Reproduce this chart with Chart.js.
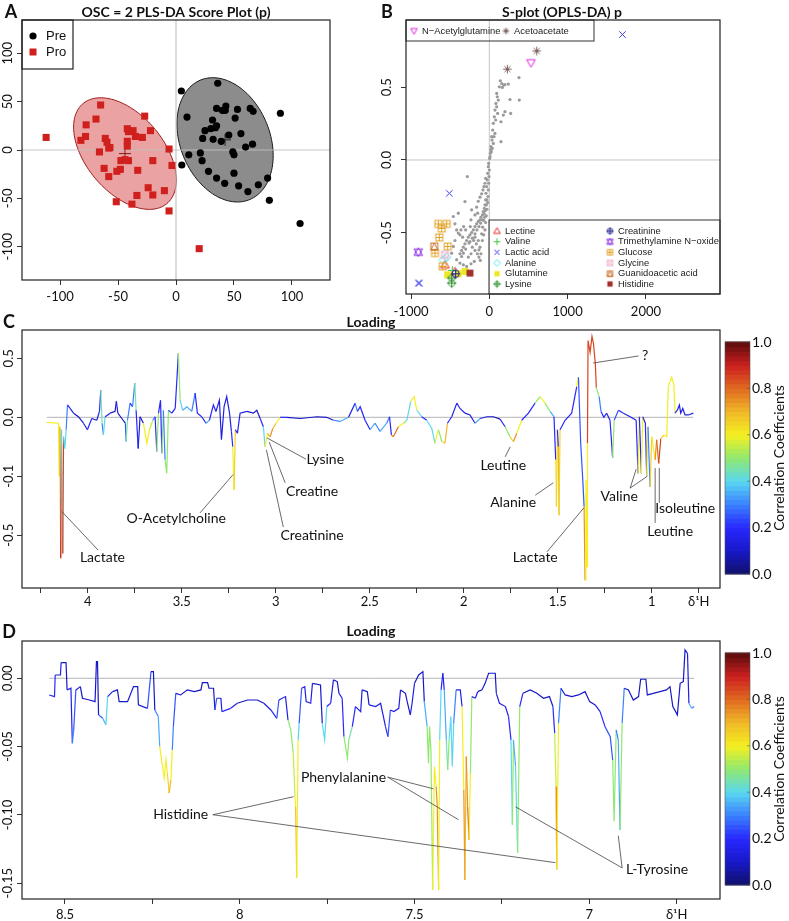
<!DOCTYPE html>
<html>
<head>
<meta charset="utf-8">
<title>PLS-DA scores, S-plot and loadings</title>
<script src="https://cdn.jsdelivr.net/npm/chart.js@4.4.1/dist/chart.umd.min.js"></script>
<style>
  html, body { margin: 0; padding: 0; background: #fff; }
  #page { position: relative; width: 789px; height: 921px; overflow: hidden; }
  #page canvas { position: absolute; left: 0; top: 0; }
</style>
</head>
<body>
<div id="page">
  <canvas id="scoreChart" width="789" height="921"></canvas>
  <canvas id="splotChart" width="789" height="921"></canvas>
  <canvas id="loadingChart" width="789" height="921"></canvas>
  <canvas id="aromaticChart" width="789" height="921"></canvas>
</div>
<script>
// ---------- A: score plot ----------
const preScoreX = [4.6, 36, 9.5, 5, 11, 21, 22.5, 23, 25, 28, 32, 31.5, 30, 34, 35, 35, 40, 43, 42.5, 35,
  39, 45.5, 42, 49, 50, 51, 50, 53, 54, 56, 60, 62, 64, 66.5, 66, 71, 79, 80.5, 90, 107];
const preScoreY = [61, 69, 34, -15.5, -5, -3, -11, 12, 20, -22, 11, 31, 22, 23, 25, 43, 41, 45.5, 41, -29,
  9, 15.5, -34.5, -2, -5, 33, -24, 42, -37, 17, 3, -43, 43, 40, 6, -36, -29, -52, 38, -76];
const proScoreX = [-112, -65, -69, -77.5, -78, -82, -66, -61, -59.5, -58, -57, -62, -58, -51, -48, -51.5, -42, -41, -37, -42,
  -42, -44, -47.5, -41, -38, -35, -29, -27, -33, -33.7, -22, -20, -24, -20, -10, -6, -3.5, -6, 20];
const proScoreY = [13, 46.5, 32, 26, 14, 10, -2, 12, 8, 2, 2.5, -19, -27.5, -22, -20, -53.5, 22, 19, 20, 9,
  4, -10, -11, -11, -56, 14, 13, 35, -21, -47, 20, -11, -39, -46.5, -42, 1, -16, -63, -102];
const preEllipse = { cx: 42.3, cy: 10.5, sdX: 41.5, sdY: 64.25, cov: -680 };
const proEllipse = { cx: -44, cy: -3.7, sdX: 44.3, sdY: 57.7, cov: -1212 };
const scoreTicks = [-100, -50, 0, 50, 100];
const scoreTickLabels = ['-100', '-50', '0', '50', '100'];

// ---------- B: S-plot ----------
const sPlotX = [141, 158, 166, 183, 200, 243, 379, 264, 383, 273, 200, 179, 149, 149, 115, 102, 94, 72, 81, 64,
  106, 51, 43, 72, 60, 30, 34, 51, 21, 38, 17, 26, 13, 9, 4, 128, 94, 85,
  -281, -9, -13, -21, -26, -34, -43, -47, -55, -64, -77, -89, -107, -119, -141, -162, -183, -204, -226, -247,
  -268, -290, -311, -332, -354, -375, -311, -396, -460, -439, -417, -375, -341, -260, -217, -183, -153, -132, -115, -192,
  -234, -290, -302, -243, -183, -141, -119, -98, -85, -72, -60, -226, -183, -162, -141, -119, -98, -81, -68, -55,
  -47, -149, -234, -328, -362, -396, -439, -460, -481, -417, -375, -332, -268, -234, -200, -166, -132, -107, -89, -72,
  -55, -47, -38, -30, -21, -17, -13, -9, -4, 0, -30, -38, -51, -64, -89, -111, -132, -158, -183, -217,
  -247, -302, -332, -354];
const sPlotY = [0.545, 0.526, 0.499, 0.515, 0.519, 0.522, 0.567, 0.416, 0.412, 0.320, 0.332, 0.309, 0.126, 0.263, 0.412, 0.435, 0.366, 0.343, 0.275, 0.297,
  0.320, 0.252, 0.206, 0.183, 0.160, 0.160, 0.137, 0.114, 0.092, 0.080, 0.069, 0.057, 0.046, 0.023, 0.011, 0.503, 0.458, 0.389,
  -0.114, -0.023, -0.046, -0.092, -0.137, -0.183, -0.229, -0.275, -0.309, -0.332, -0.355, -0.378, -0.394, -0.412, -0.423, -0.439, -0.458, -0.481, -0.499, -0.515,
  -0.531, -0.554, -0.577, -0.600, -0.622, -0.645, -0.286, -0.366, -0.389, -0.439, -0.481, -0.515, -0.531, -0.572, -0.600, -0.622, -0.645, -0.668, -0.691, -0.698,
  -0.714, -0.732, -0.481, -0.458, -0.508, -0.554, -0.600, -0.508, -0.462, -0.416, -0.394, -0.343, -0.378, -0.325, -0.284, -0.256, -0.233, -0.206, -0.183, -0.160,
  -0.126, -0.366, -0.412, -0.458, -0.481, -0.503, -0.554, -0.595, -0.641, -0.686, -0.709, -0.721, -0.668, -0.645, -0.554, -0.577, -0.618, -0.645, -0.554, -0.515,
  -0.481, -0.430, -0.384, -0.339, -0.293, -0.252, -0.206, -0.160, -0.114, -0.069, -0.275, -0.309, -0.348, -0.371, -0.412, -0.435, -0.458, -0.481, -0.531, -0.538,
  -0.561, -0.613, -0.641, -0.664];
const metaboliteNames = ['Lectine', 'Valine', 'Lactic acid', 'Alanine', 'Glutamine', 'Lysine',
  'Creatinine', 'Trimethylamine N\u2212oxide', 'Glucose', 'Glycine', 'Guanidoacetic acid', 'Histidine',
  'N\u2212Acetylglutamine', 'Acetoacetate'];
const metaboliteX = [[-566, -439], [-473], [1700, -511, -907, -893], [-545, -588], [-532, -396, -311], [-481, -481],
  [-430], [-907], [-652, -609, -545, -639, -532, -694, -596], [-566], [-703], [-247], [532], [605, 230]];
const metaboliteY = [[-0.721, -0.767], [-0.76], [0.863, -0.229, -0.847, -0.847], [-0.67, -0.686], [-0.79, -0.783, -0.767], [-0.812, -0.847],
  [-0.783], [-0.634], [-0.44, -0.471, -0.44, -0.533, -0.595, -0.641, -0.732], [-0.652], [-0.595], [-0.778], [0.668], [0.75, 0.625]];
const sPlotXTicks = [-1000, 0, 1000, 2000];
const sPlotXLabels = ['-1000', '0', '1000', '2000'];
const sPlotYTicks = [-0.5, 0, 0.5];
const sPlotYLabels = ['-0.5', '0.0', '0.5'];

// ---------- C: loading 4.2 - 0.8 ppm (y in axis units: 0.5 / 0.0 / -0.1 / -0.5 marks) ----------
const cPpm = [4.218, 4.156, 4.152, 4.149, 4.144, 4.140, 4.133, 4.129, 4.122, 4.115, 4.108, 4.094, 4.076, 4.05, 4.023, 4.002, 3.979, 3.952, 3.938, 3.931,
  3.924, 3.917, 3.908, 3.881, 3.855, 3.848, 3.84, 3.819, 3.80, 3.796, 3.789, 3.775, 3.762, 3.75, 3.743, 3.732, 3.722, 3.704, 3.686, 3.672,
  3.654, 3.642, 3.633, 3.624, 3.613, 3.606, 3.598, 3.589, 3.580, 3.571, 3.553, 3.535, 3.518, 3.509, 3.495, 3.473, 3.447, 3.429, 3.417, 3.394,
  3.371, 3.353, 3.332, 3.318, 3.30, 3.289, 3.275, 3.261, 3.246, 3.236, 3.229, 3.222, 3.215, 3.204, 3.19, 3.154, 3.119, 3.101, 3.083, 3.066,
  3.057, 3.044, 3.030, 3.016, 2.998, 2.977, 2.941, 2.87, 2.78, 2.73, 2.693, 2.658, 2.613, 2.578, 2.566, 2.551, 2.525, 2.498, 2.472, 2.445,
  2.41, 2.395, 2.385, 2.375, 2.365, 2.348, 2.321, 2.303, 2.282, 2.264, 2.25, 2.224, 2.197, 2.17, 2.153, 2.135, 2.117, 2.1, 2.087, 2.064,
  2.037, 2.02, 1.993, 1.967, 1.94, 1.913, 1.878, 1.842, 1.807, 1.78, 1.754, 1.736, 1.718, 1.692, 1.656, 1.621, 1.594, 1.568, 1.541, 1.52,
  1.511, 1.507, 1.502, 1.497, 1.493, 1.488, 1.461, 1.426, 1.399, 1.39, 1.378, 1.367, 1.36, 1.355, 1.35, 1.344, 1.342, 1.339, 1.328, 1.318,
  1.31, 1.30, 1.295, 1.28, 1.27, 1.255, 1.24, 1.222, 1.208, 1.2, 1.177, 1.151, 1.115, 1.083, 1.073, 1.066, 1.055, 1.048, 1.034, 1.027,
  1.02, 1.009, 1.0, 0.982, 0.974, 0.963, 0.952, 0.935, 0.92, 0.912, 0.894, 0.882, 0.876, 0.864, 0.853, 0.846, 0.835, 0.823, 0.805, 0.779];
const cLoading = [-0.085, -0.10, -1.0, -0.16, -2.39, -0.21, -2.31, -0.33, -0.53, -0.21, 0.21, 0.15, 0.07, 0.01, -0.10, -0.21, -0.02, -0.05, 0.10, 0.46,
  -0.10, -0.30, 0.01, 0.07, 0.10, 0.27, 0.07, -0.02, -0.10, -0.41, -0.05, 0.24, 0.18, 0.58, 0.12, -0.53, 0.01, -0.10, -0.44, -0.21,
  -0.05, 0.01, -0.58, 0.07, 0.29, -0.61, 0.12, -0.72, -0.95, 0.12, 0.07, 0.15, 1.09, 0.29, 0.12, 0.18, 0.10, 0.41, 0.07, 0.01,
  -0.10, -0.05, 0.21, 0.10, 0.29, -0.38, 0.18, 0.35, 0.07, -0.24, -0.50, -1.23, -0.21, -0.27, 0.07, 0.10, 0.07, 0.12, -0.02, -0.16,
  -0.50, -0.27, -0.33, -0.19, -0.10, 0.0, 0.0, -0.02, 0.01, 0.0, -0.05, -0.07, 0.0, 0.24, 0.10, 0.18, -0.05, -0.21, -0.10, -0.24,
  -0.10, 0.01, -0.30, -0.33, -0.27, -0.16, -0.10, -0.05, 0.27, 0.35, 0.12, 0.01, -0.05, -0.19, -0.44, -0.21, -0.41, -0.44, -0.10, 0.01,
  0.24, 0.15, 0.07, 0.04, -0.10, -0.02, 0.01, 0.01, -0.03, -0.16, -0.33, -0.41, -0.27, -0.05, 0.07, 0.24, 0.35, 0.24, 0.10, 0.01,
  -0.72, -1.51, -0.21, -0.50, -1.66, -0.21, -0.05, 0.07, 0.52, 0.68, -0.44, -1.06, -1.51, -2.76, -1.06, -2.53, -0.44, 1.30, 1.10, 1.37,
  1.25, 0.90, 0.50, 0.35, 0.10, 0.0, 0.07, -0.05, -0.69, -0.05, 0.12, 0.07, 0.01, -0.05, -0.95, 0.01, -0.95, 0.01, -0.10, -1.0,
  -0.16, -1.18, -0.33, -0.72, -0.38, -0.78, -0.36, -0.30, -0.33, 0.52, 0.68, 0.55, 0.07, 0.12, 0.21, 0.07, 0.15, 0.04, 0.04, 0.07];
const cCorr = [0.6, 0.6, 0.65, 0.7, 0.9, 0.4, 0.85, 0.4, 0.4, 0.3, 0.2, 0.15, 0.1, 0.1, 0.15, 0.2, 0.1, 0.15, 0.2, 0.45,
  0.3, 0.4, 0.15, 0.1, 0.1, 0.15, 0.1, 0.1, 0.25, 0.45, 0.3, 0.2, 0.3, 0.45, 0.2, 0.15, 0.1, 0.6, 0.6, 0.55,
  0.3, 0.2, 0.5, 0.2, 0.2, 0.5, 0.3, 0.5, 0.5, 0.25, 0.15, 0.2, 0.5, 0.4, 0.35, 0.35, 0.3, 0.2, 0.2, 0.15,
  0.35, 0.2, 0.2, 0.15, 0.15, 0.15, 0.15, 0.15, 0.15, 0.2, 0.6, 0.65, 0.2, 0.15, 0.15, 0.1, 0.1, 0.1, 0.2, 0.4,
  0.6, 0.7, 0.75, 0.7, 0.6, 0.2, 0.1, 0.1, 0.1, 0.1, 0.3, 0.35, 0.15, 0.3, 0.2, 0.2, 0.2, 0.35, 0.3, 0.35,
  0.3, 0.2, 0.75, 0.8, 0.8, 0.6, 0.5, 0.4, 0.6, 0.6, 0.4, 0.2, 0.4, 0.4, 0.6, 0.5, 0.65, 0.7, 0.2, 0.15,
  0.2, 0.2, 0.15, 0.15, 0.35, 0.15, 0.1, 0.1, 0.2, 0.5, 0.65, 0.75, 0.6, 0.2, 0.2, 0.5, 0.6, 0.5, 0.35, 0.2,
  0.6, 0.65, 0.2, 0.7, 0.65, 0.2, 0.2, 0.2, 0.6, 0.25, 0.25, 0.25, 0.75, 0.6, 0.6, 0.6, 0.85, 0.85, 0.85, 0.85,
  0.85, 0.85, 0.5, 0.3, 0.2, 0.2, 0.15, 0.2, 0.5, 0.25, 0.2, 0.15, 0.15, 0.2, 0.6, 0.2, 0.6, 0.2, 0.2, 0.6,
  0.3, 0.65, 0.6, 0.75, 0.8, 0.85, 0.65, 0.6, 0.6, 0.6, 0.6, 0.6, 0.2, 0.15, 0.15, 0.15, 0.15, 0.15, 0.15, 0.15];
const cXTicks = [4.25, 4, 3.75, 3.5, 3.25, 3, 2.75, 2.5, 2.25, 2, 1.75, 1.5, 1.25, 1, 0.75];
const cXLabels = ['', '4', '', '3.5', '', '3', '', '2.5', '', '2', '', '1.5', '', '1', '\u03b4\u00b9H'];
const cYTicks = [1, 0, -1, -2];
const cYLabels = ['0.5', '0.0', '-0.1', '-0.5'];
const cNotes = [
  { text: 'Lactate', x: 3.922, y: -2.37, lines: [[4.137, -1.60, 3.945, -2.25]] },
  { text: 'O-Acetylcholine', x: 3.53, y: -1.71, lines: [[3.227, -0.97, 3.403, -1.62]] },
  { text: 'Lysine', x: 2.737, y: -0.71, lines: [[3.046, -0.35, 2.839, -0.71]] },
  { text: 'Creatine', x: 2.807, y: -1.25, lines: [[3.035, -0.42, 2.95, -1.11]] },
  { text: 'Creatinine', x: 2.807, y: -2.01, lines: [[3.05, -0.55, 2.96, -1.86]] },
  { text: 'Leutine', x: 1.79, y: -0.81, lines: [[1.753, -0.50, 1.78, -0.67]] },
  { text: 'Alanine', x: 1.737, y: -1.44, lines: [[1.524, -1.11, 1.62, -1.32]] },
  { text: 'Lactate', x: 1.62, y: -2.37, lines: [[1.36, -1.53, 1.557, -2.28]] },
  { text: 'Valine', x: 1.173, y: -1.35, lines: [[1.115, -1.2, 1.083, -0.88], [1.115, -1.2, 1.024, -1.0]] },
  { text: 'Isoleutine', x: 0.822, y: -1.54, lines: [[0.96, -0.86, 0.96, -1.45]] },
  { text: 'Leutine', x: 0.902, y: -1.93, lines: [[0.982, -0.86, 0.982, -1.79]] },
  { text: '?', x: 1.035, y: 1.04, lines: [[1.312, 0.92, 1.07, 1.04]] }
];

// ---------- D: loading 8.5 - 6.7 ppm ----------
const dPpm = [8.545, 8.530, 8.528, 8.513, 8.511, 8.497, 8.494, 8.483, 8.479, 8.475, 8.469, 8.456, 8.45, 8.43, 8.414, 8.41, 8.407, 8.404, 8.392, 8.383,
  8.378, 8.364, 8.35, 8.345, 8.321, 8.304, 8.292, 8.29, 8.264, 8.254, 8.247, 8.243, 8.233, 8.229, 8.221, 8.216, 8.211, 8.207, 8.202, 8.197,
  8.193, 8.19, 8.183, 8.169, 8.15, 8.13, 8.111, 8.107, 8.092, 8.088, 8.075, 8.071, 8.066, 8.054, 8.051, 8.026, 8.007, 7.978, 7.95, 7.931,
  7.911, 7.894, 7.888, 7.869, 7.862, 7.854, 7.847, 7.842, 7.84, 7.837, 7.833, 7.83, 7.823, 7.814, 7.81, 7.797, 7.792, 7.769, 7.764, 7.757,
  7.751, 7.74, 7.732, 7.721, 7.716, 7.707, 7.702, 7.692, 7.688, 7.678, 7.669, 7.654, 7.65, 7.635, 7.63, 7.611, 7.597, 7.583, 7.576, 7.569,
  7.559, 7.545, 7.54, 7.526, 7.521, 7.512, 7.507, 7.5, 7.488, 7.476, 7.472, 7.464, 7.46, 7.457, 7.453, 7.448, 7.443, 7.438, 7.435, 7.431,
  7.428, 7.424, 7.419, 7.415, 7.409, 7.405, 7.401, 7.396, 7.392, 7.388, 7.381, 7.369, 7.364, 7.359, 7.356, 7.352, 7.348, 7.344, 7.34, 7.336,
  7.326, 7.319, 7.307, 7.298, 7.288, 7.269, 7.266, 7.257, 7.24, 7.231, 7.224, 7.22, 7.217, 7.211, 7.205, 7.199, 7.19, 7.169, 7.15, 7.131,
  7.114, 7.104, 7.099, 7.095, 7.093, 7.088, 7.081, 7.069, 7.05, 7.031, 7.012, 6.999, 6.983, 6.969, 6.955, 6.94, 6.933, 6.929, 6.923, 6.917,
  6.912, 6.906, 6.9, 6.888, 6.874, 6.859, 6.853, 6.838, 6.834, 6.817, 6.798, 6.779, 6.769, 6.761, 6.748, 6.74, 6.731, 6.726, 6.719, 6.715,
  6.707, 6.7];
const dLoading = [-0.0122, -0.0134, 0.0024, 0.0024, 0.0115, 0.0115, -0.0085, -0.0073, -0.0476, -0.0378, -0.0085, -0.0061, -0.0146, -0.0159, -0.0171, 0.0122, 0.0122, -0.0268, -0.0293, -0.0341,
  -0.0134, -0.0098, -0.0085, -0.0171, -0.0171, -0.0061, -0.0061, -0.0195, -0.022, 0.0049, 0.0049, -0.0232, -0.028, -0.05, -0.0646, -0.0732, -0.0598, -0.0695, -0.0841, -0.0744,
  -0.0524, -0.0354, -0.011, -0.0122, -0.0085, -0.0098, -0.0085, -0.0032, -0.0032, -0.0073, -0.0073, -0.0232, -0.0146, -0.0146, -0.0244, -0.022, -0.0183, -0.0159, -0.0159, -0.0183,
  -0.0232, -0.0293, -0.0159, -0.0134, -0.0305, -0.0378, -0.0549, -0.0866, -0.0939, -0.1463, -0.0451, -0.0329, -0.0073, -0.0061, -0.0171, -0.0183, -0.0037, -0.0049, -0.0329, -0.0451,
  -0.0207, -0.0183, -0.0012, -0.0024, -0.011, -0.0146, -0.0427, -0.0585, -0.0451, -0.0354, -0.0207, -0.0244, -0.0085, -0.0098, -0.0195, -0.0207, -0.0183, -0.0354, -0.0427, -0.0232,
  -0.0244, -0.022, -0.0085, -0.011, -0.0171, -0.0268, -0.0183, -0.0037, 0.0024, 0.0049, -0.0171, -0.0354, -0.0622, -0.0354, -0.0524, -0.1549, -0.0646, -0.0793, -0.0939, -0.1549,
  -0.0451, -0.0085, 0.0037, -0.0085, -0.0451, -0.0671, -0.0451, -0.028, -0.0646, -0.0329, -0.0085, -0.0085, -0.0207, -0.0817, -0.1476, -0.0573, -0.0939, -0.1183, -0.0695, -0.0134,
  -0.0146, -0.0098, -0.0085, -0.0037, 0.0037, 0.0037, -0.011, -0.0183, -0.0207, -0.028, -0.0451, -0.1073, -0.0451, -0.0646, -0.128, -0.0207, -0.011, -0.0085, -0.011, -0.0146,
  -0.0134, -0.0207, -0.0402, -0.0793, -0.1402, -0.0329, -0.0073, -0.0122, -0.0134, -0.0122, -0.0098, -0.0171, -0.0195, -0.0244, -0.0354, -0.0427, -0.0598, -0.1049, -0.0378, -0.0451,
  -0.111, -0.0329, -0.0073, -0.0085, -0.0159, -0.0134, -0.0007, -0.0007, -0.0122, -0.011, -0.0098, -0.0085, -0.0061, -0.0207, -0.0268, -0.0037, -0.0024, 0.0207, 0.0183, -0.0183,
  -0.022, -0.0207];
const dCorr = [0.2, 0.2, 0.15, 0.15, 0.1, 0.1, 0.15, 0.15, 0.3, 0.25, 0.15, 0.1, 0.1, 0.1, 0.1, 0.1, 0.1, 0.25, 0.35, 0.4,
  0.15, 0.1, 0.1, 0.1, 0.1, 0.1, 0.1, 0.15, 0.25, 0.1, 0.1, 0.3, 0.35, 0.6, 0.6, 0.6, 0.6, 0.65, 0.7, 0.6,
  0.3, 0.25, 0.1, 0.1, 0.1, 0.1, 0.1, 0.1, 0.1, 0.1, 0.1, 0.25, 0.15, 0.15, 0.2, 0.15, 0.1, 0.1, 0.1, 0.15,
  0.2, 0.25, 0.15, 0.15, 0.5, 0.5, 0.55, 0.6, 0.7, 0.6, 0.4, 0.25, 0.15, 0.15, 0.15, 0.15, 0.1, 0.1, 0.4, 0.4,
  0.2, 0.15, 0.1, 0.1, 0.15, 0.2, 0.5, 0.5, 0.45, 0.2, 0.15, 0.15, 0.1, 0.1, 0.15, 0.15, 0.15, 0.2, 0.25, 0.15,
  0.15, 0.15, 0.1, 0.1, 0.1, 0.15, 0.15, 0.1, 0.1, 0.1, 0.35, 0.5, 0.5, 0.5, 0.5, 0.6, 0.6, 0.75, 0.75, 0.6,
  0.4, 0.2, 0.15, 0.35, 0.45, 0.5, 0.4, 0.4, 0.4, 0.3, 0.15, 0.15, 0.6, 0.75, 0.7, 0.75, 0.8, 0.6, 0.5, 0.2,
  0.15, 0.1, 0.1, 0.1, 0.1, 0.1, 0.15, 0.15, 0.15, 0.2, 0.4, 0.5, 0.35, 0.4, 0.5, 0.2, 0.1, 0.1, 0.1, 0.1,
  0.1, 0.2, 0.55, 0.75, 0.6, 0.3, 0.1, 0.1, 0.1, 0.1, 0.1, 0.1, 0.15, 0.2, 0.25, 0.25, 0.5, 0.5, 0.3, 0.35,
  0.5, 0.3, 0.1, 0.1, 0.1, 0.1, 0.1, 0.1, 0.1, 0.1, 0.1, 0.1, 0.1, 0.1, 0.1, 0.1, 0.1, 0.1, 0.15, 0.35,
  0.3, 0.3];
const dXTicks = [8.5, 8.25, 8, 7.75, 7.5, 7.25, 7, 6.75];
const dXLabels = ['8.5', '', '8', '', '7.5', '', '7', '\u03b4\u00b9H'];
const dYTicks = [0, -0.05, -0.1, -0.15];
const dYLabels = ['0.00', '-0.05', '-0.10', '-0.15'];
const dNotes = [
  { text: 'Phenylalanine', x: 7.703, y: -0.0723, lines: [[7.577, -0.0723, 7.446, -0.0809], [7.577, -0.0723, 7.374, -0.1036]] },
  { text: 'Histidine', x: 8.169, y: -0.0999, lines: [[8.077, -0.0999, 7.846, -0.0867], [8.077, -0.0999, 7.097, -0.1350]] },
  { text: 'L-Tyrosine', x: 6.806, y: -0.1402, lines: [[6.906, -0.1388, 7.211, -0.0941], [6.906, -0.1388, 6.917, -0.1153]] }
];
const corrTicks = [0, 0.2, 0.4, 0.6, 0.8, 1.0];
const corrLabels = ['0.0', '0.2', '0.4', '0.6', '0.8', '1.0'];

// ---------- helpers ----------
const W = 789, H = 921;
const FONT = 'Lato, "Open Sans", sans-serif';
Chart.defaults.font.family = FONT;

const JET = [[0, [16, 16, 106]], [0.1, [24, 24, 200]], [0.2, [40, 40, 255]], [0.3, [58, 128, 255]], [0.4, [90, 216, 240]],
  [0.5, [144, 232, 112]], [0.6, [244, 240, 32]], [0.7, [240, 184, 40]], [0.8, [224, 106, 32]], [0.9, [204, 32, 32]], [1, [90, 12, 12]]];
function corrColor(v) {
  v = Math.max(0, Math.min(1, v));
  for (let i = 1; i < JET.length; i++) {
    if (v <= JET[i][0]) {
      const [a, ca] = JET[i - 1], [b, cb] = JET[i];
      const t = (v - a) / (b - a);
      const c = ca.map((k, j) => Math.round(k + (cb[j] - k) * t));
      return `rgb(${c[0]},${c[1]},${c[2]})`;
    }
  }
  return 'rgb(90,12,12)';
}

function points(xs, ys) { return xs.map((v, i) => ({ x: v, y: ys[i] })); }

function xAxis(box, min, max, vals, labels, pad, reverse) {
  return {
    type: 'linear', position: 'bottom', min, max, reverse: !!reverse,
    afterBuildTicks: s => { s.ticks = vals.map(v => ({ value: v })); },
    afterFit: s => { s.height = H - box.bottom; s.paddingLeft = 0; s.paddingRight = 0; },
    ticks: { autoSkip: false, maxRotation: 0, minRotation: 0, padding: pad, color: '#111',
      font: { family: FONT, size: 13 }, callback: (v, i) => labels[i] },
    grid: { drawOnChartArea: false, drawTicks: true, tickLength: 5, color: '#333' },
    border: { display: false }
  };
}
function yAxis(box, min, max, vals) {
  return {
    type: 'linear', position: 'left', min, max,
    afterBuildTicks: s => { s.ticks = vals.map(v => ({ value: v })); },
    afterFit: s => { s.width = box.left; },
    ticks: { display: false },
    grid: { drawOnChartArea: false, drawTicks: true, tickLength: 5, color: '#333' },
    border: { display: false }
  };
}
function baseOptions(box, xs, ys) {
  return {
    responsive: false, animation: false, events: [],
    layout: { padding: { left: 0, top: box.top, right: W - box.right, bottom: 0 } },
    plugins: { legend: { display: false }, tooltip: { enabled: false }, title: { display: false } },
    scales: { x: xs, y: ys }
  };
}
const framePlugin = {
  id: 'frame',
  afterDatasetsDraw(chart) {
    const a = chart.chartArea, ctx = chart.ctx;
    ctx.save(); ctx.strokeStyle = '#222'; ctx.lineWidth = 1.2;
    ctx.strokeRect(a.left, a.top, a.right - a.left, a.bottom - a.top);
    ctx.restore();
  }
};
function yLabelPlugin(vals, labels, xPos) {
  return {
    id: 'ylabels',
    afterDraw(chart) {
      const ctx = chart.ctx, sc = chart.scales.y;
      ctx.save(); ctx.font = `13px ${FONT}`; ctx.fillStyle = '#111';
      ctx.textAlign = 'center'; ctx.textBaseline = 'middle';
      vals.forEach((v, i) => {
        ctx.save(); ctx.translate(xPos, sc.getPixelForValue(v)); ctx.rotate(-Math.PI / 2);
        ctx.fillText(labels[i], 0, 0); ctx.restore();
      });
      ctx.restore();
    }
  };
}
function textPlugin(items) {
  return {
    id: 'texts',
    afterDraw(chart) {
      const ctx = chart.ctx;
      items.forEach(it => {
        ctx.save(); ctx.font = it.font; ctx.fillStyle = '#111';
        ctx.textAlign = it.align || 'center'; ctx.textBaseline = 'middle';
        ctx.translate(it.x, it.y); if (it.rot) ctx.rotate(it.rot);
        ctx.fillText(it.text, 0, 0); ctx.restore();
      });
    }
  };
}
function notePlugin(notes) {
  return {
    id: 'notes',
    afterDatasetsDraw(chart) {
      const ctx = chart.ctx, sx = chart.scales.x, sy = chart.scales.y;
      ctx.save(); ctx.strokeStyle = '#444'; ctx.lineWidth = 0.8;
      notes.forEach(n => n.lines.forEach(l => {
        ctx.beginPath();
        ctx.moveTo(sx.getPixelForValue(l[0]), sy.getPixelForValue(l[1]));
        ctx.lineTo(sx.getPixelForValue(l[2]), sy.getPixelForValue(l[3]));
        ctx.stroke();
      }));
      ctx.font = `14px ${FONT}`; ctx.fillStyle = '#111'; ctx.textAlign = 'center'; ctx.textBaseline = 'middle';
      notes.forEach(n => ctx.fillText(n.text, sx.getPixelForValue(n.x), sy.getPixelForValue(n.y)));
      ctx.restore();
    }
  };
}
function colorbarPlugin() {
  return {
    id: 'colorbar',
    afterDraw(chart) {
      const a = chart.chartArea, ctx = chart.ctx;
      const x0 = a.right + 5, x1 = a.right + 30, top = a.top + 12, bot = a.bottom - 14;
      const n = 50, h = (bot - top) / n;
      ctx.save();
      for (let i = 0; i < n; i++) {
        ctx.fillStyle = corrColor((i + 0.5) / n);
        ctx.fillRect(x0, bot - (i + 1) * h - 0.5, x1 - x0, h + 1);
      }
      ctx.strokeStyle = '#555'; ctx.lineWidth = 0.6; ctx.strokeRect(x0, top, x1 - x0, bot - top);
      ctx.font = `14px ${FONT}`; ctx.fillStyle = '#111'; ctx.textAlign = 'left'; ctx.textBaseline = 'middle';
      corrTicks.forEach((v, i) => {
        const y = bot - v * (bot - top);
        ctx.beginPath(); ctx.moveTo(x1 - 3, y); ctx.lineTo(x1, y); ctx.stroke();
        ctx.fillText(corrLabels[i], x1 + 2, y);
      });
      ctx.translate(a.right + 59, (top + bot) / 2); ctx.rotate(-Math.PI / 2);
      ctx.textAlign = 'center';
      ctx.fillText('Correlation Coefficients', 0, 0);
      ctx.restore();
    }
  };
}

// marker glyphs (R-like pch symbols)
function makeMarker(kind, color, s) {
  const c = document.createElement('canvas');
  c.width = s; c.height = s;
  const g = c.getContext('2d');
  g.strokeStyle = color; g.fillStyle = color; g.lineWidth = 1;
  const m = s / 2, r = s / 2 - 1.2;
  const line = (ax, ay, bx, by) => { g.beginPath(); g.moveTo(ax, ay); g.lineTo(bx, by); g.stroke(); };
  const square = () => g.strokeRect(m - r * 0.8, m - r * 0.8, r * 1.6, r * 1.6);
  const plus = () => { line(m - r, m, m + r, m); line(m, m - r, m, m + r); };
  const cross = k => { line(m - r * k, m - r * k, m + r * k, m + r * k); line(m - r * k, m + r * k, m + r * k, m - r * k); };
  const tri = (up) => {
    g.beginPath();
    if (up) { g.moveTo(m, m - r); g.lineTo(m + r, m + r * 0.75); g.lineTo(m - r, m + r * 0.75); }
    else { g.moveTo(m, m + r); g.lineTo(m + r, m - r * 0.75); g.lineTo(m - r, m - r * 0.75); }
    g.closePath(); g.stroke();
  };
  const diamond = () => { g.beginPath(); g.moveTo(m, m - r); g.lineTo(m + r, m); g.lineTo(m, m + r); g.lineTo(m - r, m); g.closePath(); g.stroke(); };
  switch (kind) {
    case 'tri': tri(true); break;
    case 'dtri': tri(false); break;
    case 'plus': plus(); break;
    case 'x': cross(0.75); break;
    case 'diam': diamond(); break;
    case 'fsq': g.fillRect(m - r * 0.8, m - r * 0.8, r * 1.6, r * 1.6); break;
    case 'diamplus': diamond(); plus(); break;
    case 'circplus': g.beginPath(); g.arc(m, m, r * 0.85, 0, Math.PI * 2); g.stroke(); plus(); break;
    case 'david': tri(true); tri(false); break;
    case 'sqplus': square(); line(m - r * 0.8, m, m + r * 0.8, m); line(m, m - r * 0.8, m, m + r * 0.8); break;
    case 'sqx': square(); cross(0.8); break;
    case 'sqtri': square(); g.beginPath(); g.moveTo(m, m - r * 0.8); g.lineTo(m + r * 0.8, m + r * 0.8); g.lineTo(m - r * 0.8, m + r * 0.8); g.closePath(); g.stroke(); break;
    case 'star': plus(); cross(0.7); break;
  }
  return c;
}
const metaboliteKinds = ['tri', 'plus', 'x', 'diam', 'fsq', 'diamplus', 'circplus', 'david', 'sqplus', 'sqx', 'sqtri', 'fsq', 'dtri', 'star'];
const metaboliteColors = ['#e8262a', '#3cc83c', '#3434e6', '#4ee6e6', '#ece826', '#2f8f2f', '#1c1c8c', '#8a2be2',
  '#e0a020', '#f0a8c8', '#c87028', '#a0302a', '#e020e0', '#806464'];
const plotMarkers = metaboliteKinds.map((k, i) => makeMarker(k, metaboliteColors[i], 11));
const legendMarkers = metaboliteKinds.map((k, i) => makeMarker(k, metaboliteColors[i], 9));

// ---------- A ----------
const boxA = { left: 22, top: 20, right: 330, bottom: 280 };
function drawEllipse(chart, e, fill, stroke) {
  const sx = chart.scales.x, sy = chart.scales.y, ctx = chart.ctx;
  const b = e.cov / e.sdX, c = Math.sqrt(e.sdY * e.sdY - b * b);
  ctx.beginPath();
  for (let k = 0; k <= 120; k++) {
    const t = k / 120 * Math.PI * 2;
    const px = sx.getPixelForValue(e.cx + e.sdX * Math.cos(t));
    const py = sy.getPixelForValue(e.cy + b * Math.cos(t) + c * Math.sin(t));
    if (k === 0) ctx.moveTo(px, py); else ctx.lineTo(px, py);
  }
  ctx.closePath();
  ctx.fillStyle = fill; ctx.fill();
  ctx.strokeStyle = stroke; ctx.lineWidth = 1; ctx.stroke();
}
const scoreBackground = {
  id: 'scoreBackground',
  beforeDatasetsDraw(chart) {
    const a = chart.chartArea, ctx = chart.ctx, sx = chart.scales.x, sy = chart.scales.y;
    ctx.save();
    drawEllipse(chart, proEllipse, 'rgba(214,70,70,0.5)', '#a01c1c');
    drawEllipse(chart, preEllipse, 'rgba(120,120,120,0.85)', '#1a1a1a');
    ctx.strokeStyle = 'rgba(190,190,190,0.9)'; ctx.lineWidth = 1.2;
    ctx.beginPath();
    ctx.moveTo(sx.getPixelForValue(0), a.top); ctx.lineTo(sx.getPixelForValue(0), a.bottom);
    ctx.moveTo(a.left, sy.getPixelForValue(0)); ctx.lineTo(a.right, sy.getPixelForValue(0));
    ctx.stroke();
    ctx.restore();
  },
  afterDraw(chart) {
    const a = chart.chartArea, ctx = chart.ctx;
    ctx.save();
    ctx.strokeStyle = '#222'; ctx.lineWidth = 1.2; ctx.strokeRect(a.left, a.top, 51, 49);
    ctx.fillStyle = '#000'; ctx.beginPath(); ctx.arc(a.left + 11, a.top + 16, 3.6, 0, Math.PI * 2); ctx.fill();
    ctx.fillStyle = '#d0201e'; ctx.fillRect(a.left + 7.5, a.top + 28.5, 7, 7);
    ctx.fillStyle = '#111'; ctx.font = '13px "Liberation Sans", Arial, sans-serif';
    ctx.textAlign = 'left'; ctx.textBaseline = 'middle';
    ctx.fillText('Pre', a.left + 24, a.top + 16);
    ctx.fillText('Pro', a.left + 24, a.top + 32);
    ctx.restore();
  }
};
new Chart(document.getElementById('scoreChart'), {
  type: 'scatter',
  data: {
    datasets: [
      { label: 'Pre', data: points(preScoreX, preScoreY), pointStyle: 'circle', pointRadius: 3.6,
        backgroundColor: '#000', borderColor: '#000', borderWidth: 0 },
      { label: 'Pro', data: points(proScoreX, proScoreY), pointStyle: 'rect', pointRadius: 5,
        backgroundColor: '#d0201e', borderColor: '#d0201e', borderWidth: 0 },
      { label: 'centre', data: [{ x: preEllipse.cx, y: preEllipse.cy }, { x: proEllipse.cx, y: proEllipse.cy }],
        pointStyle: 'cross', pointRadius: 6, borderColor: ['#222', '#8b1a1a'], borderWidth: 1 }
    ]
  },
  options: baseOptions(boxA,
    xAxis(boxA, -132.8, 132.8, scoreTicks, scoreTickLabels, 4),
    yAxis(boxA, -134.4, 134.4, scoreTicks)),
  plugins: [scoreBackground, framePlugin, yLabelPlugin(scoreTicks, scoreTickLabels, 8),
    textPlugin([
      { text: 'A', x: 11, y: 12, font: `bold 18px ${FONT}` },
      { text: 'OSC = 2 PLS-DA Score Plot (p)', x: 176, y: 12, font: `bold 14px ${FONT}` }
    ])]
});

// ---------- B ----------
const boxB = { left: 406, top: 20, right: 720, bottom: 294 };
const splotExtras = {
  id: 'splotExtras',
  beforeDatasetsDraw(chart) {
    const a = chart.chartArea, ctx = chart.ctx, sx = chart.scales.x, sy = chart.scales.y;
    ctx.save(); ctx.strokeStyle = '#c4c4c4'; ctx.lineWidth = 1;
    ctx.beginPath();
    ctx.moveTo(sx.getPixelForValue(0), a.top); ctx.lineTo(sx.getPixelForValue(0), a.bottom);
    ctx.moveTo(a.left, sy.getPixelForValue(0)); ctx.lineTo(a.right, sy.getPixelForValue(0));
    ctx.stroke(); ctx.restore();
  },
  afterDatasetsDraw(chart) {
    const a = chart.chartArea, ctx = chart.ctx;
    const put = (i, x, y) => ctx.drawImage(legendMarkers[i], x - 4.5, y - 4.5);
    ctx.save();
    ctx.strokeStyle = '#333'; ctx.lineWidth = 1;
    ctx.strokeRect(a.left, a.top, 188, 21);
    ctx.font = '9.4px "Liberation Sans", Arial, sans-serif'; ctx.fillStyle = '#222';
    ctx.textAlign = 'left'; ctx.textBaseline = 'middle';
    put(12, a.left + 8, a.top + 11); ctx.fillText(metaboliteNames[12], a.left + 16, a.top + 11);
    put(13, a.left + 100, a.top + 11); ctx.fillText(metaboliteNames[13], a.left + 108, a.top + 11);
    const lx = a.right - 231, ly = a.bottom - 74;
    ctx.strokeRect(lx, ly, 231, 74);
    const rows = [11, 21.7, 32.3, 43, 53.7, 64];
    for (let i = 0; i < 12; i++) {
      const col = i < 6 ? 0 : 1, row = i % 6;
      const sxp = lx + (col ? 121 : 8), yy = ly + rows[row];
      put(i, sxp, yy);
      ctx.fillText(metaboliteNames[i], sxp + 8, yy);
    }
    ctx.restore();
  }
};
const splotSets = [{ label: 'variables', data: points(sPlotX, sPlotY), pointStyle: 'circle', pointRadius: 1.6,
  backgroundColor: '#9a9a9a', borderWidth: 0 }];
metaboliteNames.forEach((name, i) => {
  splotSets.unshift({ label: name, data: points(metaboliteX[i], metaboliteY[i]), pointStyle: plotMarkers[i], pointRadius: 5 });
});
new Chart(document.getElementById('splotChart'), {
  type: 'scatter',
  data: { datasets: splotSets },
  options: baseOptions(boxB,
    xAxis(boxB, -1064, 2946, sPlotXTicks, sPlotXLabels, 5),
    yAxis(boxB, -0.922, 0.963, sPlotYTicks)),
  plugins: [splotExtras, framePlugin, yLabelPlugin(sPlotYTicks, sPlotYLabels, 387),
    textPlugin([
      { text: 'B', x: 387, y: 12, font: `bold 18px ${FONT}` },
      { text: 'S-plot (OPLS-DA) p', x: 562, y: 12, font: `bold 14px ${FONT}` }
    ])]
});

// ---------- C ----------
const boxC = { left: 22, top: 330, right: 720, bottom: 588 };
new Chart(document.getElementById('loadingChart'), {
  type: 'scatter',
  data: {
    datasets: [
      { label: 'loading', data: points(cPpm, cLoading), showLine: true, pointRadius: 0, borderWidth: 1.2,
        borderColor: '#2828ff', segment: { borderColor: ctx => corrColor(cCorr[ctx.p0DataIndex]) } },
      { label: 'zero', data: [{ x: cPpm[0], y: 0 }, { x: cPpm[cPpm.length - 1], y: 0 }], showLine: true,
        pointRadius: 0, borderWidth: 1, borderColor: '#b4b4b4' }
    ]
  },
  options: baseOptions(boxC,
    xAxis(boxC, 0.637, 4.35, cXTicks, cXLabels, 1, true),
    yAxis(boxC, -2.893, 1.48, cYTicks)),
  plugins: [framePlugin, notePlugin(cNotes), colorbarPlugin(), yLabelPlugin(cYTicks, cYLabels, 9),
    textPlugin([
      { text: 'C', x: 9, y: 322, font: `bold 18px ${FONT}` },
      { text: 'Loading', x: 371, y: 322, font: `bold 14px ${FONT}` }
    ])]
});

// ---------- D ----------
const boxD = { left: 22, top: 641, right: 720, bottom: 899 };
new Chart(document.getElementById('aromaticChart'), {
  type: 'scatter',
  data: {
    datasets: [
      { label: 'loading', data: points(dPpm, dLoading), showLine: true, pointRadius: 0, borderWidth: 1.2,
        borderColor: '#2828ff', segment: { borderColor: ctx => corrColor(dCorr[ctx.p0DataIndex]) } },
      { label: 'zero', data: [{ x: dPpm[0], y: 0 }, { x: dPpm[dPpm.length - 1], y: 0 }], showLine: true,
        pointRadius: 0, borderWidth: 1, borderColor: '#b4b4b4' }
    ]
  },
  options: baseOptions(boxD,
    xAxis(boxD, 6.626, 8.623, dXTicks, dXLabels, 3, true),
    yAxis(boxD, -0.1616, 0.0273, dYTicks)),
  plugins: [framePlugin, notePlugin(dNotes), colorbarPlugin(), yLabelPlugin(dYTicks, dYLabels, 8),
    textPlugin([
      { text: 'D', x: 9, y: 632, font: `bold 18px ${FONT}` },
      { text: 'Loading', x: 371, y: 631, font: `bold 14px ${FONT}` }
    ])]
});
</script>
</body>
</html>
